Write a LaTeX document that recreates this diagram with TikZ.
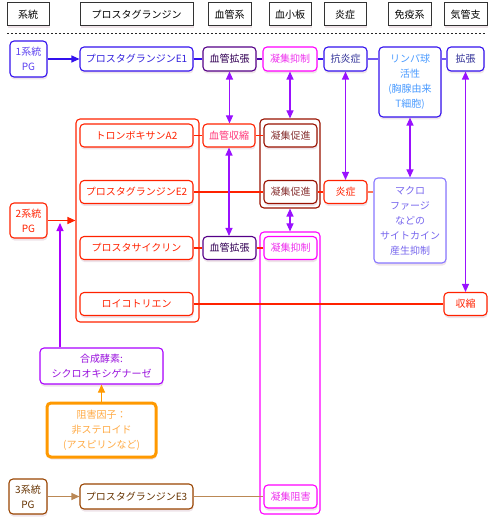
\documentclass[tikz,border=0pt]{standalone}
\usepackage{fontspec}
\setmainfont{Noto Sans CJK JP}
\usetikzlibrary{arrows.meta,shadows}
\definecolor{hdrline}{HTML}{333333}
\definecolor{cblue}{HTML}{3311EE}
\definecolor{tblue}{HTML}{3322DD}
\definecolor{tdblue}{HTML}{333399}
\definecolor{tlblue}{HTML}{4A9BFF}
\definecolor{cdpurple}{HTML}{550088}
\definecolor{tdpurple}{HTML}{330055}
\definecolor{cmag}{HTML}{FF00FF}
\definecolor{tmag}{HTML}{EE33EE}
\definecolor{cred}{HTML}{FF2200}
\definecolor{tpink}{HTML}{FF3377}
\definecolor{cbrown}{HTML}{991100}
\definecolor{tbrown}{HTML}{883333}
\definecolor{cmacro}{HTML}{8877FF}
\definecolor{tmacro}{HTML}{7766EE}
\definecolor{csyn}{HTML}{AA00FF}
\definecolor{tsyn}{HTML}{9911DD}
\definecolor{corange}{HTML}{FF9900}
\definecolor{torange}{HTML}{FFAA44}
\definecolor{cthree}{HTML}{994400}
\definecolor{tthree}{HTML}{663300}
\definecolor{ctan}{HTML}{BB8855}
\definecolor{carrow}{HTML}{9911FF}
\definecolor{csalmon}{HTML}{FF7755}
\definecolor{shadowc}{HTML}{E8D8E0}
\begin{document}
\begin{tikzpicture}[x=1pt,y=-1pt,
  font=\fontsize{10}{15}\selectfont,
  sz/.style 2 args={minimum width=#1pt, minimum height=#2pt},
  shd/.style={drop shadow={shadow xshift=0.5pt, shadow yshift=-2.5pt, fill=shadowc, opacity=0.7}},
  hdr/.style={draw=hdrline, line width=1pt, inner sep=0pt, fill=white, text=black, shd},
  box/.style={draw, rounded corners=4pt, line width=1.1pt, inner sep=0pt, align=center, fill=white, shd},
  grp/.style={draw, rounded corners=4pt, line width=1.1pt, inner sep=0pt, fill=white},
  tip/.style={-{Triangle[length=8pt,width=7pt]}},
  dtip/.style={{Triangle[length=8pt,width=7pt]}-{Triangle[length=8pt,width=7pt]}},
  conn/.style={line width=1.1pt},
]
\useasboundingbox (0,0) rectangle (493,526);

% headers
\node[hdr, sz={42}{23}] (h1) at (28,14.5) {系統};
\node[hdr, sz={113}{23}] (h2) at (136.5,14.5) {プロスタグランジン};
\node[hdr, sz={43}{23}] (h3) at (229.5,14.5) {血管系};
\node[hdr, sz={42}{23}] (h4) at (290,14.5) {血小板};
\node[hdr, sz={42}{23}] (h5) at (345,14.5) {炎症};
\node[hdr, sz={43}{23}] (h6) at (409.5,14.5) {免疫系};
\node[hdr, sz={43}{23}] (h7) at (465.5,14.5) {気管支};
\coordinate (dl) at (7,34);
\coordinate (dr) at (486,34);
\draw[line width=1pt, dash pattern=on 2pt off 2pt, black!85] (dl) -- (dr);

% groups
\node[grp, draw=cred, sz={123}{203}] (rgroup) at (137.5,220.5) {};
\node[grp, draw=cbrown, sz={60}{89}] (bgroup) at (290,163.5) {};
\node[grp, draw=cmag, sz={60}{282}] (mgroup) at (290,373) {};

% row 1
\node[box, draw=cblue, text=cblue!80!white, sz={37}{36}] (pg1) at (28.5,59) {1系統\\PG};
\node[box, draw=cblue, text=tblue, sz={113}{24}] (e1) at (136.5,59) {プロスタグランジンE1};
\node[box, draw=cdpurple, text=tdpurple, sz={53}{24}] (r1v) at (229.5,59) {血管拡張};
\node[box, draw=cmag, text=tmag, sz={54}{24}] (r1p) at (290,59) {凝集抑制};
\node[box, draw=cblue, text=tdblue, sz={43}{24}] (r1a) at (345.5,59) {抗炎症};
\node[box, draw=cblue, text=tlblue, sz={62}{70}] (lymph) at (410,82) {リンパ球\\活性\\(胸腺由来\\T細胞)};
\node[box, draw=cblue, text=tdblue, sz={37}{24}] (r1k) at (465.5,59) {拡張};

% row 2 family
\node[box, draw=cred, text=cred, sz={37}{35}] (pg2) at (28.5,220.5) {2系統\\PG};
\node[box, draw=cred, text=cred, sz={113}{23}] (txa) at (136.5,135.5) {トロンボキサンA2};
\node[box, draw=cred, text=cred, sz={113}{23}] (e2) at (136.5,192) {プロスタグランジンE2};
\node[box, draw=cred, text=cred, sz={113}{23}] (pgi) at (136.5,248) {プロスタサイクリン};
\node[box, draw=cred, text=cred, sz={113}{23}] (lt) at (136.5,304) {ロイコトリエン};
\node[box, draw=cred, text=tpink, sz={52}{23}] (vc) at (229,135.5) {血管収縮};
\node[box, draw=cbrown, text=tbrown, sz={53}{23}] (bp1) at (290.5,135.5) {凝集促進};
\node[box, draw=cbrown, text=tbrown, sz={53}{23}] (bp2) at (290.5,192) {凝集促進};
\node[box, draw=cred, text=cred, sz={43}{23}] (inf) at (345.5,192) {炎症};
\node[box, draw=cmacro, text=tmacro, sz={72}{85}] (macro) at (410,220.5) {マクロ\\ファージ\\などの\\サイトカイン\\産生抑制};
\node[box, draw=cdpurple, text=tdpurple, sz={53}{23}] (vd3) at (229.5,248) {血管拡張};
\node[box, draw=cmag, text=tmag, sz={53}{23}] (mp3) at (290.5,248) {凝集抑制};
\node[box, draw=cred, text=cred, sz={43}{23}] (con) at (465.5,304) {収縮};

% enzyme and inhibitor
\node[box, draw=csyn, text=tsyn, sz={123}{36}] (syn) at (101.5,366) {合成酵素:\\シクロオキシゲナーゼ};
\node[box, draw=corange, text=torange, line width=3pt, sz={109}{54}] (inh) at (101.5,430) {阻害因子：\\非ステロイド\\(アスピリンなど)};

% row 3
\node[box, draw=cthree, text=tthree, sz={38}{35}] (pg3) at (28,496.5) {3系統\\PG};
\node[box, draw=cthree, text=tthree, sz={113}{25}] (e3) at (136.5,496.5) {プロスタグランジンE3};
\node[box, draw=cmag, text=tmag, sz={53}{23}] (mb) at (290.5,496.5) {凝集阻害};

% row 1 connectors
\draw[conn, cblue, tip] (pg1.east) -- (e1.west);
\draw[conn, cblue] (e1.east) -- (r1v.west);
\draw[conn, cdpurple!70!cblue] (r1v.east) -- (r1p.west);
\draw[conn, cblue] (r1p.east) -- (r1a.west);
\draw[conn, cblue!70!white, line width=1.6pt] (r1a.east) -- (r1a.east -| lymph.west);
\draw[conn, cblue!70!white, line width=1.6pt] (r1k.west -| lymph.east) -- (r1k.west);

% red connectors
\draw[conn, cred, tip] (pg2.east) -- (rgroup.west);
\draw[conn, cred] (txa.east) -- (vc.west);
\draw[conn, cred] (vc.east) -- (bp1.west);
\draw[conn, cred] (e2.east) -- (bp2.west);
\draw[conn, cred] (bp2.east) -- (inf.west);
\draw[conn, csalmon] (inf.east) -- (inf.east -| macro.west);
\draw[conn, cred] (pgi.east) -- (vd3.west);
\draw[conn, cred] (vd3.east) -- (mp3.west);
\draw[conn, cred] (lt.east) -- (con.west);

% purple double arrows
\draw[conn, carrow, dtip] (r1v.south) -- (vc.north -| r1v.south);
\draw[conn, carrow, dtip] (r1p.south) -- (bgroup.north);
\draw[conn, carrow, dtip] (r1a.south) -- (inf.north);
\draw[conn, carrow, dtip] (lymph.south) -- (macro.north);
\draw[conn, carrow, dtip] (r1k.south) -- (con.north);
\draw[conn, carrow, dtip] (vc.south) -- (vd3.north -| vc.south);
\draw[conn, carrow, dtip] (bgroup.south) -- (mgroup.north);

% enzyme arrows
\coordinate (tgt) at (60,223);
\draw[conn, csyn, tip] (tgt |- syn.north) -- (tgt);
\draw[conn, corange, tip] (inh.north) -- (syn.south);

% row 3 connectors
\draw[conn, ctan, tip] (pg3.east) -- (e3.west);
\draw[conn, ctan] (e3.east) -- (mb.west);
\end{tikzpicture}
\end{document}
